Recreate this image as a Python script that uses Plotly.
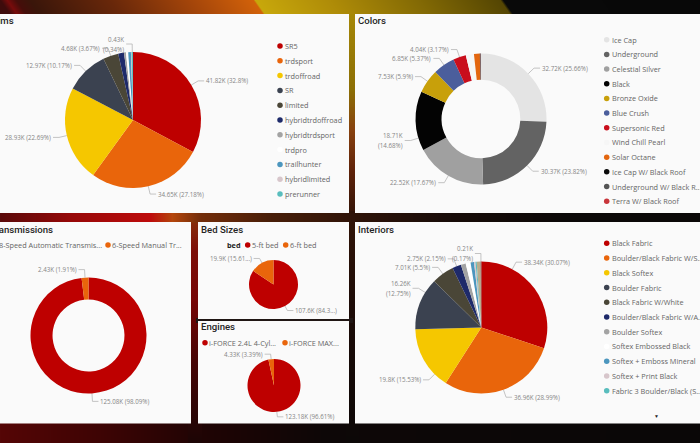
import base64
import struct
import zlib

import numpy as np
import plotly.graph_objects as go

# ---------------- data (values in thousands of vehicles) ----------------
trim_names = ["SR5", "trdsport", "trdoffroad", "SR", "limited", "hybridtrdoffroad",
              "hybridtrdsport", "trdpro", "trailhunter", "hybridlimited", "prerunner"]
trim_values = [41.82, 34.65, 28.93, 12.97, 4.68, 1.73, 0.60, 0.68, 0.82, 0.19, 0.43]

color_names = ["Ice Cap", "Underground", "Celestial Silver", "Black", "Bronze Oxide",
               "Blue Crush", "Supersonic Red", "Wind Chill Pearl", "Solar Octane",
               "Ice Cap W/ Black Roof", "Underground W/ Black R...", "Terra W/ Black Roof"]
color_values = [32.72, 30.37, 22.524, 18.71, 7.528, 6.85, 4.04, 2.55, 1.84, 0.19, 0.11, 0.058]

trans_names = ["8-Speed Automatic Transmis...", "6-Speed Manual Tr..."]
trans_values = [125.08, 2.43]

bed_names = ["5-ft bed", "6-ft bed"]
bed_values = [107.6, 19.9]

engine_names = ["i-FORCE 2.4L 4-Cyl...", "i-FORCE MAX..."]
engine_values = [123.18, 4.326]

interior_names = ["Black Fabric", "Boulder/Black Fabric W/S...", "Black Softex", "Boulder Fabric",
                  "Black Fabric W/White", "Boulder/Black Fabric W/A...", "Boulder Softex",
                  "Softex Embossed Black", "Softex + Emboss Mineral", "Softex + Print Black",
                  "Fabric 3 Boulder/Black (S...", "Boulder/Black Softex", "Black Softex W/Red"]
interior_values = [38.34, 36.96, 19.8, 16.26, 7.01, 2.747, 1.53, 1.53, 1.08, 0.45, 0.38, 1.2, 0.214]

# ---------------- styles ----------------
W, H = 700, 443
THEME = ["#BE0000", "#E9650B", "#F5C700", "#3B4250", "#4A4637", "#1E2A6A", "#A3A3A3",
         "#FFFFFF", "#4C96BE", "#D7C6CB", "#59BDBD", "#B9AC8C", "#7F3F3F"]
CAR_COLORS = ["#E4E4E4", "#636363", "#A0A0A0", "#030303", "#C8A00A", "#4B5E9C", "#C90E1C",
              "#F6F6F6", "#E3660F", "#0A0A0A", "#555555", "#C8353A"]
PANEL = "#FAFAFA"
LABEL_FONT = "Segoe UI, Open Sans, sans-serif"
TITLE_FONT = "DIN, Roboto, sans-serif"
LABEL_COLOR = "#858585"
LEGEND_COLOR = "#656565"
LINE_COLOR = "#B5B5B5"

charts = [
    dict(names=trim_names, values=trim_values, colors=THEME, cx=133, cy=120, r=68, hole=0,
         d=8, h=6, labeled=[0, 1, 2, 3, 4, 10], split=[10], angle={},
         title=("Trims", 13.5, 21, "right"),
         legend=dict(kind="v", dot_x=280, text_x=284.5, y0=46, dy=14.8, n=11)),
    dict(names=color_names, values=color_values, colors=CAR_COLORS, cx=481, cy=119, r=65.5,
         hole=0.6, d=8, h=6, labeled=[0, 1, 2, 3, 4, 5, 6], split=[3], angle={3: 253},
         title=("Colors", 358, 21, "left"),
         legend=dict(kind="v", dot_x=606.7, text_x=611.7, y0=39.7, dy=14.68, n=12)),
    dict(names=trans_names, values=trans_values, colors=THEME, cx=88.5, cy=335.5, r=58,
         hole=0.62, d=8, h=6, labeled=[0, 1], split=[], angle={},
         title=("Transmissions", 52.5, 229, "right"),
         legend=dict(kind="h", y=245, items=[(-4, -1), (108, 112)], head=None)),
    dict(names=bed_names, values=bed_values, colors=THEME, cx=273.5, cy=284.5, r=24.5,
         hole=0, d=5, h=6, labeled=[0, 1], split=[], angle={}, trunc=12,
         title=("Bed Sizes", 201, 229, "left"),
         legend=dict(kind="h", y=245, items=[(247.7, 251.5), (285.7, 290)], head=("bed", 226.7))),
    dict(names=engine_names, values=engine_values, colors=THEME, cx=274, cy=385.5, r=26.5,
         hole=0, d=5, h=6, labeled=[0, 1], split=[], angle={},
         title=("Engines", 201, 326, "left"),
         legend=dict(kind="h", y=342.7, items=[(205, 208.5), (285, 289)], head=None)),
    dict(names=interior_names, values=interior_values, colors=THEME, cx=481.3, cy=327.5, r=66,
         hole=0, d=8, h=6, labeled=[0, 1, 2, 3, 4, 5, 12], split=[3, 12],
         angle={0: 28, 2: 225, 3: 302},
         title=("Interiors", 358, 229, "left"),
         legend=dict(kind="v", dot_x=606.7, text_x=611.7, y0=243.3, dy=14.74, n=11)),
]

panels = [(-5, 14, 349, 213), (355, 14, 705, 213), (-5, 222, 191, 423.5),
          (198, 222, 349, 319), (198, 321, 349, 423.5), (355, 222, 705, 423.5)]


# ---------------- background picture (gradient) ----------------
def ramp(v, stops):
    pos = [p for p, _ in stops]
    return np.stack([np.interp(v, pos, [c[i] for _, c in stops]) for i in range(3)], axis=-1)


yy, xx = np.mgrid[0:H, 0:W].astype(float)
bg = ramp(xx, [(0, (85, 6, 6)), (100, (62, 4, 4)), (200, (32, 4, 4)), (320, (14, 7, 7)),
               (700, (10, 8, 8))])
u = xx - 0.7 * yy
top = ramp(u, [(0, (62, 12, 12)), (7, (120, 12, 12)), (16, (70, 14, 10)), (30, (58, 22, 10)),
               (110, (105, 40, 10)), (190, (165, 70, 10)), (253, (210, 98, 10)),
               (255, (200, 168, 12)), (330, (175, 140, 8)), (420, (130, 105, 5)),
               (500, (85, 70, 3)), (503, (10, 10, 10)), (700, (8, 8, 8))])
m = yy < 15
bg[m] = top[m]
gap_top = ramp(yy, [(0, (170, 140, 8)), (90, (140, 110, 5)), (130, (135, 65, 15)),
                    (170, (95, 35, 10)), (216, (50, 20, 8))])
m = (xx >= 346) & (xx <= 358) & (yy >= 14) & (yy < 216)
bg[m] = gap_top[m]
band = ramp(xx, [(0, (90, 10, 10)), (70, (150, 8, 8)), (150, (190, 12, 12)), (172, (180, 70, 12)),
                 (200, (115, 45, 10)), (270, (72, 30, 8)), (350, (48, 20, 8)), (450, (24, 12, 8)),
                 (560, (12, 8, 7)), (700, (10, 8, 8))])
m = (yy >= 211) & (yy <= 224)
bg[m] = band[m]
gap_l = ramp(yy, [(222, (135, 45, 12)), (250, (125, 15, 8)), (300, (118, 6, 6)),
                  (360, (72, 5, 5)), (443, (28, 5, 5))])
m = (xx >= 188) & (xx <= 201) & (yy > 222)
bg[m] = gap_l[m]
gap_r = ramp(yy, [(222, (48, 20, 8)), (300, (30, 12, 7)), (443, (12, 8, 7))])
m = (xx >= 346) & (xx <= 358) & (yy > 222)
bg[m] = gap_r[m]
m = (xx >= 196) & (xx <= 352) & (yy >= 318) & (yy <= 322)
bg[m] = (32, 22, 20)
img = np.clip(bg, 0, 255).astype(np.uint8)


def png_uri(a):
    h, w, _ = a.shape
    raw = b"".join(b"\x00" + a[i].tobytes() for i in range(h))

    def chunk(tag, data):
        return (struct.pack(">I", len(data)) + tag + data
                + struct.pack(">I", zlib.crc32(tag + data) & 0xFFFFFFFF))

    png = (b"\x89PNG\r\n\x1a\n" + chunk(b"IHDR", struct.pack(">IIBBBBB", w, h, 8, 2, 0, 0, 0))
           + chunk(b"IDAT", zlib.compress(raw, 9)) + chunk(b"IEND", b""))
    return "data:image/png;base64," + base64.b64encode(png).decode()


# ---------------- build figure ----------------
def fmt_num(v):
    return f"{v:.2f}".rstrip("0").rstrip(".")


fig = go.Figure()
annotations = []
line_x, line_y = [], []
dot_x, dot_y, dot_c = [], [], []


def add_text(x, y, text, size, color, anchor="left", family=LABEL_FONT, weight=None):
    font = dict(size=size, color=color, family=family)
    if weight:
        font["weight"] = weight
    annotations.append(dict(x=x / W, y=1 - y / H, xref="paper", yref="paper", text=text,
                            showarrow=False, xanchor=anchor, yanchor="middle", font=font,
                            borderpad=0, borderwidth=0))


for ch in charts:
    vals = ch["values"]
    total = sum(vals)
    cx, cy, r = ch["cx"], ch["cy"], ch["r"]
    fig.add_trace(go.Pie(
        labels=ch["names"], values=vals, sort=False, direction="clockwise", rotation=0,
        hole=ch["hole"], marker=dict(colors=ch["colors"][:len(vals)], line=dict(width=0)),
        textinfo="none", hoverinfo="label+value+percent", showlegend=False,
        domain=dict(x=[(cx - r) / W, (cx + r) / W], y=[1 - (cy + r) / H, 1 - (cy - r) / H])))

    # data labels with leader lines
    cum = 0.0
    for i, v in enumerate(vals):
        mid = (cum + v / 2) / total * 360
        cum += v
        if i not in ch["labeled"]:
            continue
        th = np.radians(ch["angle"].get(i, mid))
        s, c = np.sin(th), np.cos(th)
        p0 = (cx + r * s, cy - r * c)
        p1 = (cx + (r + ch["d"]) * s, cy - (r + ch["d"]) * c)
        side = 1 if s >= 0 else -1
        p2 = (p1[0] + side * ch["h"], p1[1])
        line_x += [p0[0], p1[0], p2[0], None]
        line_y += [p0[1], p1[1], p2[1], None]
        ktxt = fmt_num(v) + "K"
        ptxt = "(" + fmt_num(v / total * 100) + "%)"
        anchor = "left" if side > 0 else "right"
        tx = p2[0] + side * 2
        if i in ch["split"]:
            add_text(tx, p2[1] - 5, ktxt, 6.2, LABEL_COLOR, anchor)
            add_text(tx, p2[1] + 5, ptxt, 6.2, LABEL_COLOR, anchor)
        else:
            txt = ktxt + " " + ptxt
            if ch.get("trunc"):
                txt = txt[:ch["trunc"]] + "...)"
            add_text(tx, p2[1], txt, 6.2, LABEL_COLOR, anchor)

    # title
    t, tx, ty, ta = ch["title"]
    add_text(tx, ty, t, 9.6, "#252423", ta, TITLE_FONT, 500)

    # legend
    lg = ch["legend"]
    if lg["kind"] == "v":
        for i in range(lg["n"]):
            y = lg["y0"] + i * lg["dy"]
            dot_x.append(lg["dot_x"])
            dot_y.append(y)
            dot_c.append(ch["colors"][i])
            add_text(lg["text_x"], y, ch["names"][i], 7.3, LEGEND_COLOR)
    else:
        if lg["head"]:
            add_text(lg["head"][1], lg["y"], lg["head"][0], 7.3, "#252423", weight=700)
        for i, (dx, tx2) in enumerate(lg["items"]):
            dot_x.append(dx)
            dot_y.append(lg["y"])
            dot_c.append(ch["colors"][i])
            add_text(tx2, lg["y"], ch["names"][i], 7.3, LEGEND_COLOR)

# scroll arrow of the Interiors legend
add_text(656.7, 416, "▼", 5, "#252423", "center")

fig.add_trace(go.Scatter(x=line_x, y=line_y, mode="lines",
                         line=dict(color=LINE_COLOR, width=0.8),
                         hoverinfo="skip", showlegend=False))
fig.add_trace(go.Scatter(x=dot_x, y=dot_y, mode="markers",
                         marker=dict(size=5.5, color=dot_c, line=dict(width=0)),
                         hoverinfo="skip", showlegend=False, cliponaxis=True))

shapes = [dict(type="rect", xref="x", yref="y", x0=a, y0=b, x1=c, y1=d,
               fillcolor=PANEL, line=dict(width=0), layer="below")
          for a, b, c, d in panels]

fig.update_layout(
    width=W, height=H, margin=dict(l=0, r=0, t=0, b=0),
    paper_bgcolor="#0A0808", plot_bgcolor="rgba(0,0,0,0)",
    xaxis=dict(range=[0, W], visible=False, fixedrange=True),
    yaxis=dict(range=[H, 0], visible=False, fixedrange=True),
    images=[dict(source=png_uri(img), xref="paper", yref="paper", x=0, y=1, sizex=1, sizey=1,
                 xanchor="left", yanchor="top", sizing="stretch", layer="below")],
    shapes=shapes, annotations=annotations, showlegend=False,
)

fig.write_html("out.html", config={"displayModeBar": False},
               post_script="document.body.style.margin='0px';"
                           "document.body.style.overflow='hidden';")
